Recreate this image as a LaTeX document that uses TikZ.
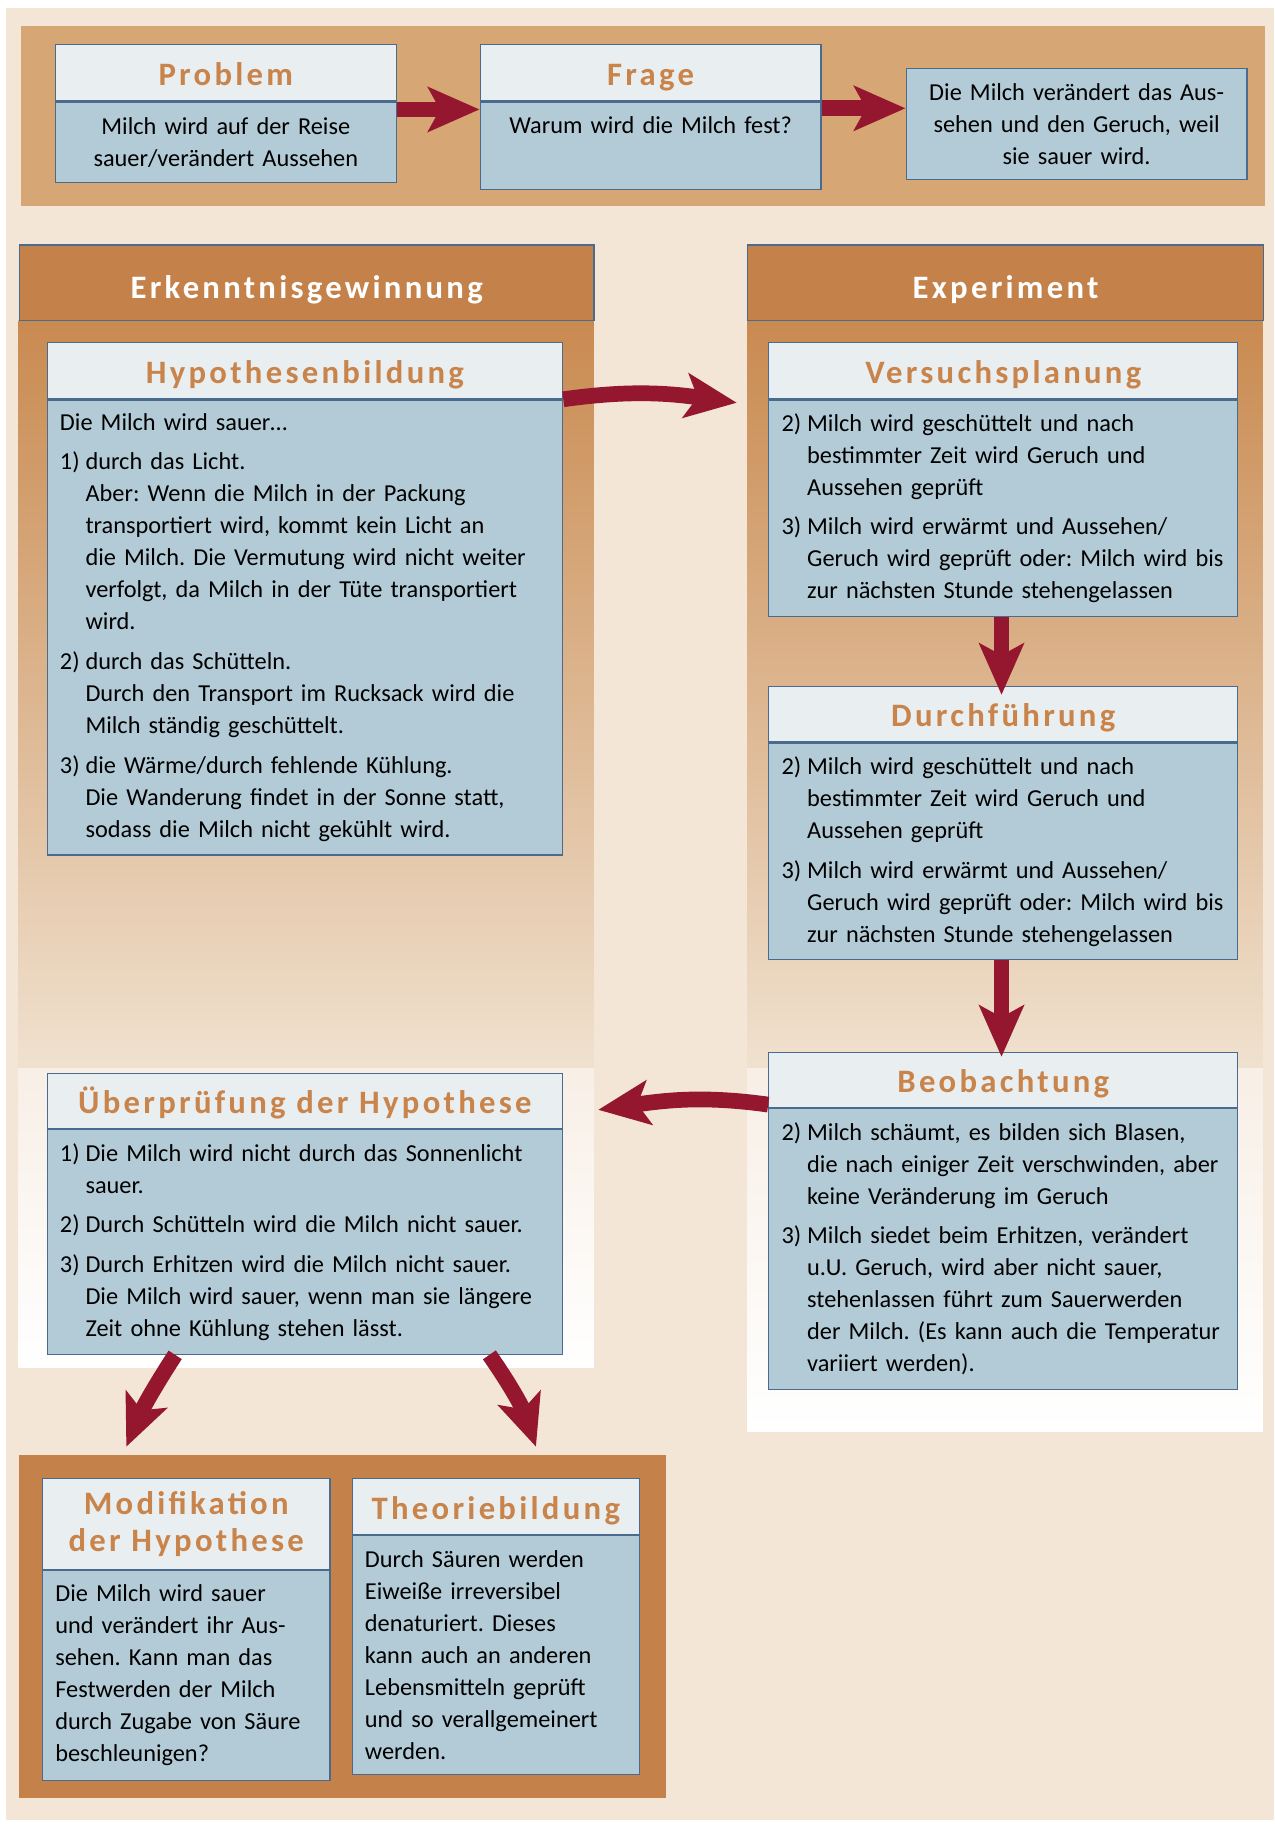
\documentclass[tikz,border=0pt]{standalone}
\usepackage{fontspec}
\setmainfont{Carlito}
\newfontfamily\headfont[LetterSpace=10]{Carlito}
\usetikzlibrary{positioning,arrows.meta}

\definecolor{bg}{HTML}{F3E6D6}
\definecolor{band}{HTML}{D6A674}
\definecolor{brown}{HTML}{C4814A}
\definecolor{ttlfill}{HTML}{E9EEF1}
\definecolor{boxfill}{HTML}{B3CBD6}
\definecolor{edge}{HTML}{4A6A8E}
\definecolor{ttlcol}{HTML}{C8844B}
\definecolor{arrcol}{HTML}{95162F}
\definecolor{pnltop}{HTML}{C98A50}
\definecolor{pnlmid}{HTML}{F0E1CF}
\definecolor{pnllow}{HTML}{F8EFE6}

\newcommand\nr[1]{\makebox[12.5pt][l]{#1}}
\newcommand\ind{\hspace*{12.5pt}}
\newcommand\gap{3.7pt}
\frenchspacing
\hyphenpenalty=10000

\begin{document}
\begin{tikzpicture}[x=0.02cm, y=-0.02cm,
    ttl/.style={draw=edge, line width=0.6pt, fill=ttlfill, text=ttlcol, inner sep=0pt, minimum height=0.96cm, anchor=north west, align=center, font=\headfont\bfseries\fontsize{16}{18.2}\selectfont},
    ttl1/.style={ttl, text height=12.5pt, text depth=0pt},
    txt/.style={draw=edge, line width=0.6pt, fill=boxfill, inner xsep=0.22cm, inner ysep=0.1cm, font=\fontsize{11.9}{15.65}\selectfont},
    hdr/.style={draw=edge, line width=0.6pt, fill=brown, text=white, inner sep=0pt, minimum height=1.3cm, text height=15.4pt, text depth=0pt, anchor=north west, font=\headfont\bfseries\fontsize{16}{18.2}\selectfont},
    arr/.style={draw=arrcol, line width=0.27cm, -{Stealth[length=0.88cm, width=0.76cm, inset=0.2cm]}}]

    % background
    \useasboundingbox (0,0) rectangle (1095,1568);
    \fill[white] (0,0) rectangle (1095,1568);
    \fill[bg] (5,7) rectangle (1095,1564);
    \fill[band] (18,22) rectangle (1087,177);
    \shade[top color=pnltop, bottom color=pnlmid] (16,275) rectangle (510,918);
    \shade[top color=pnllow, bottom color=white] (16,918) rectangle (510,1175);
    \shade[top color=pnltop, bottom color=pnlmid] (642,275) rectangle (1085,918);
    \shade[top color=pnllow, bottom color=white] (642,918) rectangle (1085,1230);
    \fill[brown] (16,1250) rectangle (572,1545);

    % top row
    \node[ttl1, minimum width=5.86cm] (prob) at (47,38) {Problem};
    \node[txt, minimum width=5.86cm, text width=5.42cm, align=center, minimum height=1.38cm, below=0pt of prob] (probB) {Milch wird auf der Reise\\sauer/verändert Aussehen};
    \node[ttl1, minimum width=5.86cm] (frage) at (412,38) {Frage};
    \node[txt, minimum width=5.86cm, text width=5.42cm, align=center, minimum height=1.5cm, below=0pt of frage] (frageB) {Warum wird die Milch fest?\\\strut};
    \node[txt, minimum width=5.86cm, text width=5.42cm, align=center, minimum height=1.92cm, anchor=north west] (ans) at (778,58) {Die Milch verändert das Aus-\\sehen und den Geruch, weil\\sie sauer wird.};

    % columns
    \node[hdr, minimum width=9.88cm] (erk) at (16,210) {Erkenntnisgewinnung};
    \node[hdr, minimum width=8.86cm] (exp) at (642,210) {Experiment};

    \node[ttl1, minimum width=8.86cm] (hyp) at (40,294) {Hypothesenbildung};
    \node[txt, minimum width=8.86cm, text width=8.42cm, align=left, minimum height=7.82cm, below=0pt of hyp] (hypB) {Die Milch wird sauer…\\[\gap]
        \nr{1)}durch das Licht.\\
        \ind Aber: Wenn die Milch in der Packung\\
        \ind transportiert wird, kommt kein Licht an\\
        \ind die Milch. Die Vermutung wird nicht weiter\\
        \ind verfolgt, da Milch in der Tüte transportiert\\
        \ind wird.\\[\gap]
        \nr{2)}durch das Schütteln.\\
        \ind Durch den Transport im Rucksack wird die\\
        \ind Milch ständig geschüttelt.\\[\gap]
        \nr{3)}die Wärme/durch fehlende Kühlung.\\
        \ind Die Wanderung findet in der Sonne statt,\\
        \ind sodass die Milch nicht gekühlt wird.};

    \node[ttl1, minimum width=8.06cm] (vers) at (660,294) {Versuchsplanung};
    \node[txt, minimum width=8.06cm, text width=7.62cm, align=left, minimum height=3.72cm, below=0pt of vers] (versB) {\nr{2)}Milch wird geschüttelt und nach\\
        \ind bestimmter Zeit wird Geruch und\\
        \ind Aussehen geprüft\\[\gap]
        \nr{3)}Milch wird erwärmt und Aussehen/\\
        \ind Geruch wird geprüft oder: Milch wird bis\\
        \ind zur nächsten Stunde stehengelassen};

    \node[ttl1, minimum width=8.06cm] (durch) at (660,589) {Durchführung};
    \node[txt, minimum width=8.06cm, text width=7.62cm, align=left, minimum height=3.72cm, below=0pt of durch] (durchB) {\nr{2)}Milch wird geschüttelt und nach\\
        \ind bestimmter Zeit wird Geruch und\\
        \ind Aussehen geprüft\\[\gap]
        \nr{3)}Milch wird erwärmt und Aussehen/\\
        \ind Geruch wird geprüft oder: Milch wird bis\\
        \ind zur nächsten Stunde stehengelassen};

    \node[ttl1, minimum width=8.06cm, minimum height=0.94cm] (beob) at (660,904) {Beobachtung};
    \node[txt, minimum width=8.06cm, text width=7.62cm, align=left, minimum height=4.82cm, below=0pt of beob] (beobB) {\nr{2)}Milch schäumt, es bilden sich Blasen,\\
        \ind die nach einiger Zeit verschwinden, aber\\
        \ind keine Veränderung im Geruch\\[\gap]
        \nr{3)}Milch siedet beim Erhitzen, verändert\\
        \ind u.U. Geruch, wird aber nicht sauer,\\
        \ind stehenlassen führt zum Sauerwerden\\
        \ind der Milch. (Es kann auch die Temperatur\\
        \ind variiert werden).};

    \node[ttl1, minimum width=8.86cm, minimum height=0.94cm] (ueber) at (40,922) {Überprüfung der Hypothese};
    \node[txt, minimum width=8.86cm, text width=8.42cm, align=left, minimum height=3.86cm, below=0pt of ueber] (ueberB) {\nr{1)}Die Milch wird nicht durch das Sonnenlicht\\
        \ind sauer.\\[\gap]
        \nr{2)}Durch Schütteln wird die Milch nicht sauer.\\[\gap]
        \nr{3)}Durch Erhitzen wird die Milch nicht sauer.\\
        \ind Die Milch wird sauer, wenn man sie längere\\
        \ind Zeit ohne Kühlung stehen lässt.};

    % bottom row
    \node[ttl, minimum width=4.94cm, minimum height=1.56cm] (modi) at (36,1270) {Modifikation\\der Hypothese};
    \node[txt, minimum width=4.94cm, text width=4.5cm, align=left, minimum height=3.6cm, below=0pt of modi] (modiB) {Die Milch wird sauer\\und verändert ihr Aus-\\sehen. Kann man das\\Festwerden der Milch\\durch Zugabe von Säure\\beschleunigen?};
    \node[ttl1, minimum width=4.94cm] (theo) at (302,1270) {Theoriebildung};
    \node[txt, minimum width=4.94cm, text width=4.5cm, align=left, minimum height=4.1cm, below=0pt of theo] (theoB) {Durch Säuren werden\\Eiweiße irreversibel\\denaturiert. Dieses\\kann auch an anderen\\Lebensmitteln geprüft\\und so verallgemeinert\\werden.};

    % arrows
    \draw[arr] ([yshift=-0.14cm]probB.north east) -- ([yshift=-0.14cm]frageB.north west);
    \draw[arr] ([yshift=-0.12cm]frageB.north east) -- ([yshift=-0.12cm]frageB.north east -| ans.west);
    \draw[arr] (hypB.north east) to[out=8, in=172] ([xshift=-0.54cm, yshift=-0.06cm]versB.north west);
    \draw[arr] ([xshift=-0.03cm]versB.south) -- ([xshift=-0.03cm, yshift=-0.16cm]durch.north);
    \draw[arr] ([xshift=-0.03cm]durchB.south) -- ([xshift=-0.03cm, yshift=-0.08cm]beob.north);
    \draw[arr] ([yshift=0.06cm]beob.south west) to[out=172, in=8] ([xshift=0.6cm, yshift=-0.15cm]ueber.east);
    \draw[arr] ([xshift=-2.23cm]ueberB.south) to[bend right=5] ([xshift=-1.03cm, yshift=0.54cm]modi.north);
    \draw[arr] ([xshift=3.17cm]ueberB.south) to[bend left=8] ([xshift=0.69cm, yshift=0.54cm]theo.north);
\end{tikzpicture}
\end{document}
